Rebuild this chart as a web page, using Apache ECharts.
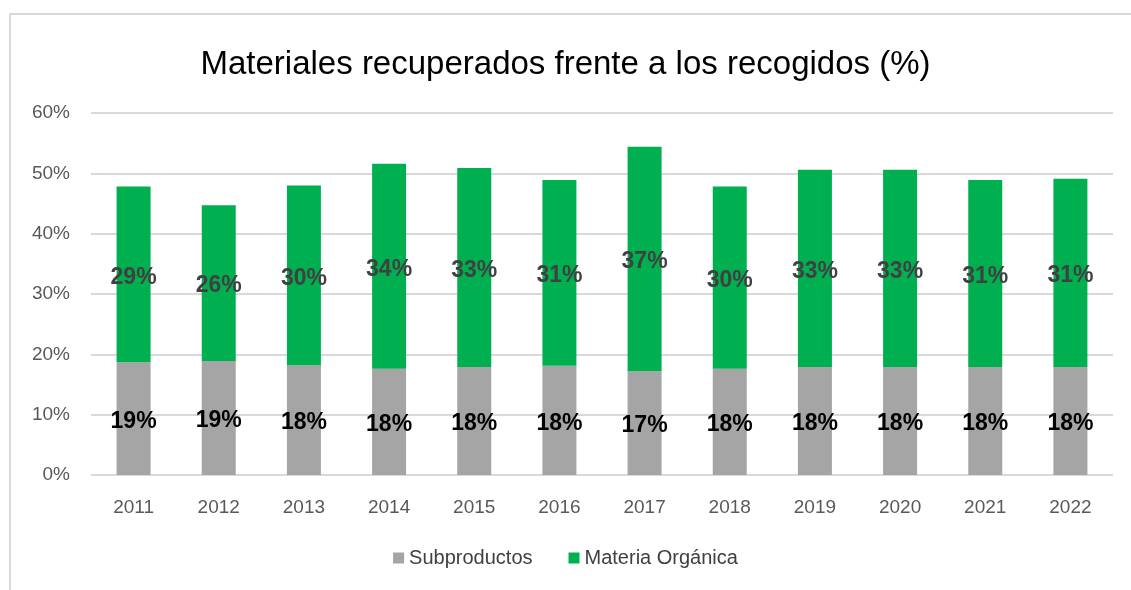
<!DOCTYPE html>
<html>
<head>
<meta charset="utf-8">
<script src="https://cdn.jsdelivr.net/npm/echarts@6/dist/echarts.min.js"></script>
<style>
  html, body { margin: 0; padding: 0; background: #fff; }
  #main { width: 1131px; height: 590px; }
</style>
</head>
<body>
<div id="main"></div>
<script>
var years = ['2011', '2012', '2013', '2014', '2015', '2016', '2017', '2018', '2019', '2020', '2021', '2022'];
// valores en %
var subproductos = [18.7, 18.9, 18.2, 17.6, 17.9, 18.1, 17.2, 17.6, 17.9, 17.9, 17.9, 17.9];
var materiaOrganica = [29.1, 25.8, 29.8, 34.0, 33.0, 30.8, 37.2, 30.2, 32.7, 32.7, 31.0, 31.2];
var yTicks = [0, 10, 20, 30, 40, 50, 60];

(function () {
  var myChart = echarts.init(document.getElementById('main'));
  var fontFam = '"Liberation Sans", Arial, sans-serif';

  var option = {
    animation: false,
    title: {
      text: 'Materiales recuperados frente a los recogidos (%)',
      left: 'center',
      top: 43,
      textStyle: { fontFamily: fontFam, fontSize: 33, fontWeight: 'normal', color: '#000' }
    },
    legend: {
      bottom: 17,
      left: 'center',
      itemWidth: 11,
      itemHeight: 11,
      itemGap: 36,
      icon: 'rect',
      textStyle: { fontFamily: fontFam, fontSize: 20, color: '#404040' },
      data: ['Subproductos', 'Materia Orgánica']
    },
    graphic: [
      {
        type: 'rect',
        shape: { x: 10, y: 14, width: 1200, height: 700 },
        style: { fill: 'none', stroke: '#d9d9d9', lineWidth: 2 }
      }
    ],
    grid: { left: 91, right: 18, top: 113, bottom: 115 },
    xAxis: {
      type: 'category',
      data: years,
      axisLine: { show: false },
      axisTick: { show: false },
      axisLabel: { fontFamily: fontFam, fontSize: 19, color: '#595959', margin: 23 }
    },
    yAxis: {
      type: 'value',
      min: yTicks[0],
      max: yTicks[yTicks.length - 1],
      interval: 10,
      axisLabel: {
        fontFamily: fontFam, fontSize: 19, color: '#595959', margin: 21,
        formatter: function (v) { return v + '%'; }
      },
      splitLine: { lineStyle: { color: '#d9d9d9', width: 2 } }
    },
    series: [
      {
        name: 'Subproductos',
        type: 'bar',
        stack: 'total',
        barWidth: 34,
        data: subproductos,
        itemStyle: { color: '#a5a5a5' },
        label: {
          show: true,
          position: 'inside',
          offset: [0, 3],
          fontFamily: fontFam,
          fontSize: 23,
          fontWeight: 'bold',
          color: '#000',
          formatter: function (p) { return Math.round(p.value) + '%'; }
        }
      },
      {
        name: 'Materia Orgánica',
        type: 'bar',
        stack: 'total',
        barWidth: 34,
        data: materiaOrganica,
        itemStyle: { color: '#00b050' },
        label: {
          show: true,
          position: 'inside',
          offset: [0, 3],
          fontFamily: fontFam,
          fontSize: 23,
          fontWeight: 'bold',
          color: '#404040',
          formatter: function (p) { return Math.round(p.value) + '%'; }
        }
      }
    ]
  };

  myChart.setOption(option);
})();
</script>
</body>
</html>
